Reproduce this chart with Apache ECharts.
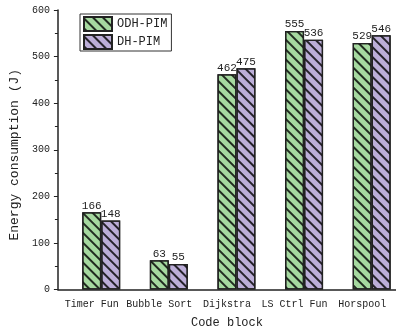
<!DOCTYPE html>
<html><head><meta charset="utf-8">
<script src="https://cdn.jsdelivr.net/npm/echarts@6/dist/echarts.min.js"></script>
<style>html,body{margin:0;padding:0;background:#fff}#c{width:396px;height:335px}</style>
</head><body><div id="c"></div>
<script>
const categories = ['Timer Fun', 'Bubble Sort', 'Dijkstra', 'LS Ctrl Fun', 'Horspool'];
const odhPim = [166, 63, 462, 555, 529];
const dhPim = [148, 55, 475, 536, 546];
const yTicks = [0, 100, 200, 300, 400, 500, 600];
const FONT = 'Liberation Mono';
const chart = echarts.init(document.getElementById('c'), null, {renderer: 'canvas'});
const hatch = {
  symbol: 'rect', symbolSize: 1, color: 'rgba(0,0,0,0.8)',
  dashArrayX: [1, 0], dashArrayY: [1.1, 4.1], rotation: Math.PI / 4
};
const labelCfg = {show: true, position: 'top', distance: 1, fontFamily: FONT, fontSize: 11, color: '#222'};
chart.setOption({
  animation: false,
  textStyle: {fontFamily: FONT},
  grid: {left: 53, top: 10, width: 350, height: 279.5, containLabel: false},
  legend: {
    data: ['ODH-PIM', 'DH-PIM'], orient: 'vertical', left: 80, top: 14, icon: 'rect',
    itemWidth: 28, itemHeight: 14, itemGap: 2, padding: [2, 4, 1, 3],
    borderColor: '#333', borderWidth: 1,
    textStyle: {fontFamily: FONT, fontSize: 12, color: '#222'}
  },
  xAxis: [{
    type: 'category', data: categories, name: 'Code block', nameLocation: 'middle', nameGap: 27,
    nameTextStyle: {fontFamily: FONT, fontSize: 12, color: '#222'},
    axisLine: {lineStyle: {color: '#222', width: 1.5}},
    axisTick: {alignWithLabel: true, length: 5, lineStyle: {color: '#222'}},
    axisLabel: {fontFamily: FONT, fontSize: 10, color: '#222', margin: 10, interval: 0}
  }, {
    type: 'category', data: categories, position: 'bottom',
    axisLine: {show: false}, axisLabel: {show: false},
    axisTick: {inside: true, length: 3, lineStyle: {color: '#222'}}
  }],
  yAxis: {
    type: 'value', min: yTicks[0], max: yTicks[yTicks.length - 1], interval: 100,
    name: 'Energy consumption (J)', nameLocation: 'middle', nameGap: 26,
    nameTextStyle: {fontFamily: FONT, fontSize: 13, color: '#222', padding: [0, 10, 0, 0]},
    axisLine: {show: true, lineStyle: {color: '#222', width: 1.5}},
    axisTick: {show: true, length: 4, lineStyle: {color: '#222'}},
    minorTick: {show: true, splitNumber: 2, length: 3, lineStyle: {color: '#222'}},
    splitLine: {show: false},
    axisLabel: {fontFamily: FONT, fontSize: 10, color: '#222', margin: 8}
  },
  series: [{
    name: 'spacer', type: 'bar', data: categories.map(() => null), barWidth: 19, barGap: 0,
    silent: true, itemStyle: {color: 'transparent'}
  }, {
    name: 'ODH-PIM', type: 'bar', data: odhPim, barWidth: 19, barGap: 0,
    itemStyle: {color: '#a6d9a0', borderColor: '#222', borderWidth: 1.3, decal: hatch},
    label: labelCfg
  }, {
    name: 'DH-PIM', type: 'bar', data: dhPim, barWidth: 19, barGap: 0,
    itemStyle: {color: '#bcaed8', borderColor: '#222', borderWidth: 1.3, decal: hatch},
    label: labelCfg
  }]
});
</script></body></html>
